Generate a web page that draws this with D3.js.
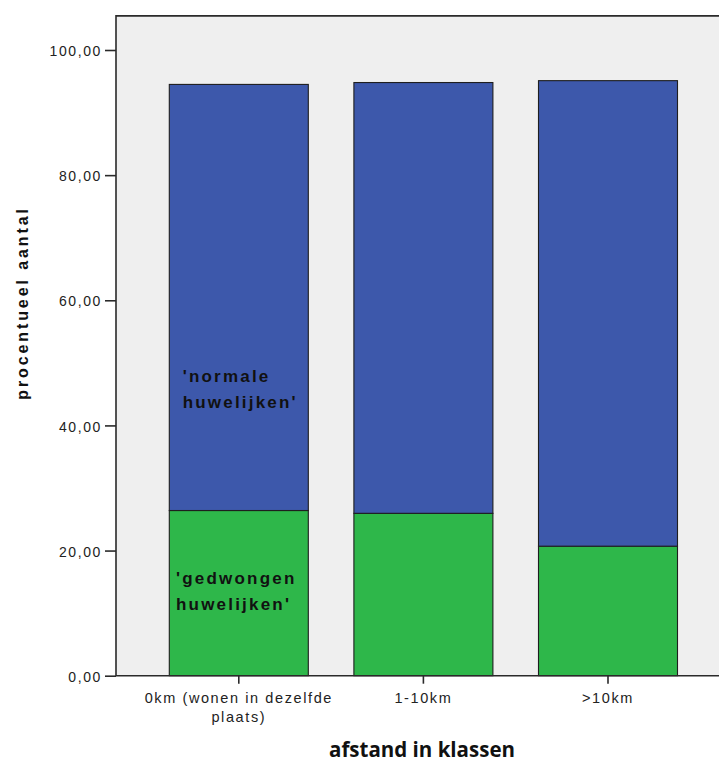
<!DOCTYPE html>
<html>
<head>
<meta charset="utf-8">
<script src="https://cdn.jsdelivr.net/npm/d3@7"></script>
<style>
  html, body { margin: 0; padding: 0; background: #fff; }
  svg { display: block; }
</style>
</head>
<body>
<svg id="chart" width="719" height="762"></svg>
<script>
// ---- data ----
const categories = ["0km (wonen in dezelfde plaats)", "1-10km", ">10km"];
const categoryLines = [["0km (wonen in dezelfde", "plaats)"], ["1-10km"], [">10km"]];
const gedwongen = [26.4, 25.95, 20.7];      // 'gedwongen huwelijken'
const totaal = [94.5, 94.8, 95.1];          // top of stacked bar
const normale = totaal.map((t, i) => +(t - gedwongen[i]).toFixed(2)); // 'normale huwelijken'
const yTicks = [0, 20, 40, 60, 80, 100];
const yTickLabels = ["0,00", "20,00", "40,00", "60,00", "80,00", "100,00"];
const seriesNames = ["'gedwongen huwelijken'", "'normale huwelijken'"];
const yTitle = "procentueel aantal";
const xTitle = "afstand in klassen";

// ---- layout ----
const FONT = "'Liberation Sans', Arial, sans-serif";
const svg = d3.select("#chart");
const frameLeft = 116, frameRight = 730;
const y = d3.scaleLinear().domain([0, 100]).range([675.7, 50]);
const yTop = 105.45;
const x = d3.scaleBand().domain(categories).range([169.3, 677.5]).paddingInner(0.247).paddingOuter(0);

const colors = { gedwongen: "#2eb74a", normale: "#3d58ab" };

// plot background
svg.append("rect")
  .attr("x", frameLeft).attr("y", y(yTop))
  .attr("width", frameRight - frameLeft).attr("height", y(0) - y(yTop))
  .attr("fill", "#efefef");

// stacked data
const rows = categories.map((c, i) => ({ cat: c, gedwongen: gedwongen[i], normale: normale[i] }));
const stack = d3.stack().keys(["gedwongen", "normale"])(rows);

svg.append("g").selectAll("g").data(stack).join("g")
  .attr("fill", d => colors[d.key])
  .selectAll("rect").data(d => d).join("rect")
  .attr("x", d => x(d.data.cat))
  .attr("width", x.bandwidth())
  .attr("y", d => y(d[1]))
  .attr("height", d => y(d[0]) - y(d[1]))
  .attr("stroke", "#1e1e1e")
  .attr("stroke-width", 1.1);

// frame lines (top + left + bottom)
svg.append("path")
  .attr("d", `M${frameRight},${y(yTop)}H${frameLeft}V${y(0)}H${frameRight}`)
  .attr("fill", "none").attr("stroke", "#2a2a2a").attr("stroke-width", 1.6);

// y axis
const yAxis = d3.axisLeft(y).tickValues(yTicks).tickSize(11)
  .tickFormat((d, i) => yTickLabels[i]).tickPadding(3);
const gy = svg.append("g").attr("transform", `translate(${frameLeft},0)`).call(yAxis);
gy.select(".domain").remove();
gy.selectAll(".tick line").attr("stroke", "#2a2a2a").attr("stroke-width", 1.6);
gy.selectAll(".tick text")
  .attr("fill", "#222").attr("dy", "0.4em")
  .style("font-family", FONT).style("font-size", "14px").style("letter-spacing", "1.6px");

// x axis
const xAxis = d3.axisBottom(x).tickSize(8).tickFormat("");
const gx = svg.append("g").attr("transform", `translate(0,${y(0)})`).call(xAxis);
gx.select(".domain").remove();
gx.selectAll(".tick line").attr("stroke", "#2a2a2a").attr("stroke-width", 1.6);
gx.selectAll(".tick").each(function (d, i) {
  const t = d3.select(this).append("text")
    .attr("fill", "#222")
    .attr("text-anchor", "middle")
    .style("font-family", FONT).style("font-size", "14.5px").style("letter-spacing", "1.6px");
  categoryLines[i].forEach((line, j) => {
    t.append("tspan").attr("x", 0).attr("y", 27 + j * 19).text(line);
  });
});

// axis titles
svg.append("text")
  .attr("transform", `translate(28,303) rotate(-90)`)
  .attr("text-anchor", "middle")
  .attr("fill", "#111")
  .style("font-family", FONT).style("font-size", "16px").style("font-weight", "bold")
  .style("letter-spacing", "2.9px")
  .text(yTitle);

svg.append("text")
  .attr("x", 422).attr("y", 757)
  .attr("text-anchor", "middle")
  .attr("fill", "#111")
  .style("font-family", "'Open Sans', 'DejaVu Sans', sans-serif")
  .style("font-size", "20.5px").style("font-weight", "bold")
  .text(xTitle);

// in-bar series labels (first bar)
function seriesLabel(text, xOff, yVal) {
  const words = text.split(" ");
  const t = svg.append("text")
    .attr("fill", "#111")
    .style("font-family", FONT).style("font-size", "17px").style("font-weight", "bold")
    .style("letter-spacing", "2.2px");
  words.forEach((w, j) => {
    t.append("tspan").attr("x", x(categories[0]) + xOff).attr("y", y(yVal) + j * 26).text(w);
  });
}
seriesLabel(seriesNames[1], 13.4, 47);
seriesLabel(seriesNames[0], 6.7, 14.7);
</script>
</body>
</html>
